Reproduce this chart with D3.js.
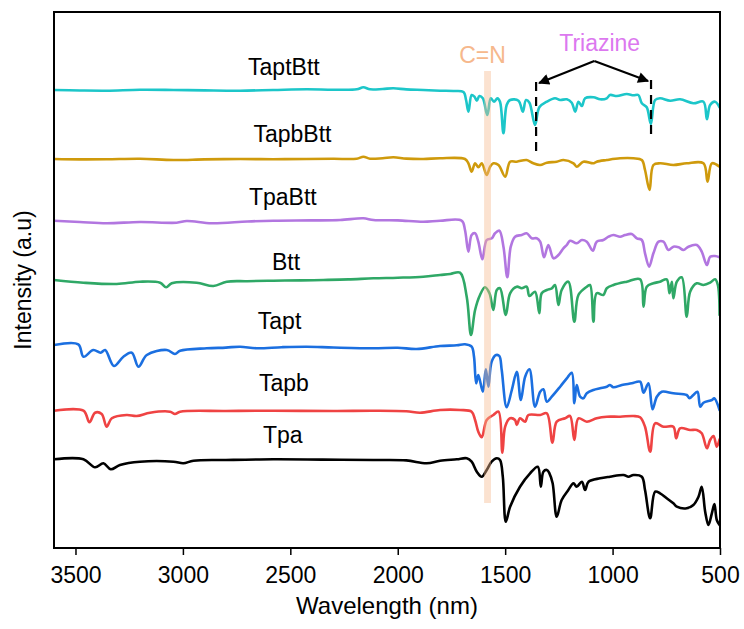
<!DOCTYPE html>
<html><head><meta charset="utf-8">
<script src="https://cdn.jsdelivr.net/npm/d3@7"></script>
<style>
body{margin:0;background:#fff;}
text{font-family:"Liberation Sans",Arial,sans-serif;}
</style></head>
<body><svg id="c" width="744" height="629"></svg>
<script>
// x: wavenumber (axis titled "Wavelength (nm)"), y: intensity in a.u. (stacked spectra)
const xTicks = [3500, 3000, 2500, 2000, 1500, 1000, 500];
const seriesNames  = ["TaptBtt", "TapbBtt", "TpaBtt", "Btt", "Tapt", "Tapb", "Tpa"];
const seriesColors = ["#1cc6c9", "#cf9a0c", "#b276e0", "#2fa866", "#1b6fe0", "#ef4343", "#000000"];
// label anchor [wavenumber, intensity]
const labelPos = [[2530, 473], [2490, 406], [2535, 343], [2520, 278], [2550, 219], [2530, 157], [2535, 105]];

const taptBtt = [[3600,458],[3480,457.5],[3355,457.3],[3200,458.2],[3044,458],[2900,457.6],[2734,457.3],[2580,458],[2424,458.7],[2300,458.3],[2191,458.7],[2160,460.7],[2129,458.7],[2070,459],[2020,459.7],[1960,458.6],[1881,458],[1803,457.3],[1741,457],[1694,456],[1682,448],[1671,436.3],[1656,453],[1643,451.3],[1632,447.3],[1620,452],[1604,449.7],[1583,433],[1567,449.7],[1552,446.3],[1536,449.7],[1524,446.3],[1508,414.7],[1493,443],[1477,448],[1438,447.3],[1418,436.3],[1403,448],[1387,445.3],[1361,423],[1341,440.7],[1306,446.3],[1268,449.7],[1244,448],[1213,448.7],[1190,445.3],[1174,436.3],[1159,446.3],[1143,442],[1128,449.7],[1089,450.7],[1058,448.7],[1027,449.7],[1012,453],[980,452],[934,454],[903,452.7],[880,453],[864,444.7],[841,440.7],[822,424],[802,448],[779,449.7],[732,447.3],[686,448.7],[624,444.7],[577,446.3],[561,428.7],[546,443],[523,446.3],[502,440.7]];

const tapbBtt = [[3600,389],[3480,388.6],[3355,388.7],[3200,389.2],[3044,388],[2900,388.6],[2734,389],[2580,388.8],[2424,389],[2300,389.2],[2191,389.3],[2160,391.3],[2129,389.3],[2070,389.8],[2020,390.7],[1960,389.4],[1881,389],[1803,389.7],[1687,389],[1671,384.7],[1656,376.3],[1640,384.7],[1625,380.7],[1609,384.7],[1586,373],[1570,381.3],[1555,384.7],[1531,383],[1500,371.3],[1477,386.3],[1446,386.3],[1400,388],[1369,384.7],[1337,383],[1306,385.3],[1260,386.3],[1229,388],[1182,384.7],[1167,381.3],[1136,386.3],[1089,384.7],[1074,386.3],[1027,388],[965,389.7],[903,389.7],[864,388],[849,378],[828,358],[810,383],[779,384.7],[717,383],[655,384.7],[577,384.7],[558,366.3],[538,384.7],[502,381.3]];

const tpaBtt = [[3600,327.3],[3480,326],[3355,324.7],[3200,326],[3029,325.3],[2982,327],[2866,324.7],[2700,326.5],[2579,327.3],[2400,327.6],[2268,328],[2160,329.7],[2113,328],[2000,327.6],[1881,326.3],[1803,327.3],[1702,327.3],[1687,318],[1671,296.3],[1656,313],[1640,314.7],[1625,306.3],[1606,288.7],[1586,308],[1562,309.7],[1547,314.7],[1527,317.3],[1508,301.3],[1490,270.7],[1474,301.3],[1454,311.3],[1423,313],[1400,314.7],[1376,309.7],[1353,309.7],[1337,306.3],[1319,290.7],[1299,303],[1275,289.7],[1252,293],[1229,299.7],[1213,303],[1198,307.3],[1167,304.7],[1143,308],[1120,306.3],[1092,297.3],[1074,306.3],[1043,308],[1019,311.3],[996,313],[965,311.3],[942,313],[911,314],[887,309.7],[864,308],[849,294.7],[830,281.3],[810,294.7],[786,306.3],[763,306.3],[740,298],[717,301.3],[693,300.7],[670,298],[647,301.3],[608,303],[585,296.3],[561,283],[546,291.3],[523,292],[502,290.7]];

const btt = [[3600,268],[3463,265.3],[3308,264],[3200,266.3],[3106,265.3],[3078,260.7],[3052,264.7],[2936,265.3],[2858,262],[2796,266.3],[2700,266.8],[2579,267.3],[2450,267.6],[2346,268],[2230,268.6],[2113,269.7],[2000,270.3],[1881,271.3],[1803,273],[1756,274],[1710,275.3],[1679,251.3],[1659,213],[1640,238],[1617,253],[1594,260.7],[1573,254.7],[1555,238],[1539,258],[1524,259.7],[1497,233],[1477,254.7],[1446,261.3],[1423,259.7],[1400,261.3],[1387,252],[1361,256.3],[1341,234.7],[1330,254.7],[1306,258],[1283,259.7],[1268,263],[1252,243],[1237,258],[1206,266.3],[1178,226.3],[1159,253],[1120,261.3],[1105,263],[1089,226.3],[1074,254.7],[1043,253],[1027,259.7],[996,263],[934,266.3],[872,268.7],[856,241.3],[841,261.3],[810,264.7],[779,266.3],[748,268.7],[735,254.7],[724,266.3],[717,249.7],[701,266.3],[678,270.7],[655,231.3],[639,256.3],[608,264.7],[577,263],[546,265.3],[523,268.7],[510,263],[502,233]];

const tapt = [[3600,203],[3487,203.7],[3463,191.3],[3417,198],[3383,195.3],[3362,198],[3321,182],[3277,191.3],[3238,195.3],[3207,181.3],[3168,193],[3075,198],[3037,194],[3013,197.3],[2889,199.7],[2800,200.4],[2734,201.3],[2656,199.7],[2540,200.8],[2424,201.3],[2300,200.5],[2113,199.7],[2000,200.2],[1912,199],[1803,202],[1725,202.7],[1687,203.7],[1656,201.3],[1645,191.3],[1635,164.7],[1625,173],[1604,156.3],[1590,178.7],[1578,161.3],[1563,186.3],[1542,193],[1527,192],[1516,178],[1493,140.7],[1469,158],[1446,176.3],[1427,148],[1407,171.3],[1387,178.7],[1361,141.3],[1337,156.3],[1322,158.7],[1306,146.3],[1283,151.3],[1244,161.3],[1213,169.7],[1190,175.3],[1178,144.7],[1167,163],[1151,151.3],[1136,149.7],[1120,154.7],[1089,158],[1058,159.7],[1027,161.3],[1012,163],[996,160.7],[957,163],[911,164.7],[872,166.3],[856,155.3],[833,164.7],[814,138.7],[794,151.3],[771,156.3],[717,154.7],[655,153],[642,149.7],[624,153],[605,156.3],[592,141.3],[577,145.3],[538,148],[527,149.7],[502,138]];

const tapb = [[3600,137.3],[3463,137.3],[3435,125.7],[3409,135.3],[3378,134],[3355,121.3],[3331,129.7],[3262,133],[3215,132],[3153,135.3],[3060,136.3],[3037,134],[3013,136.3],[2800,137],[2579,137.3],[2300,137],[2113,137.3],[1960,136.8],[1896,135.3],[1803,138],[1710,138],[1656,136.3],[1640,128],[1625,116.3],[1609,110.7],[1586,128],[1555,133],[1531,136.3],[1513,95.3],[1500,121.3],[1477,129.7],[1454,128],[1446,123],[1431,129.7],[1407,126.3],[1392,133],[1337,133],[1306,134.7],[1280,105.3],[1260,126.3],[1221,129.7],[1198,132],[1178,108],[1159,129.7],[1120,126.3],[1074,129.7],[1027,131.3],[965,131.3],[903,132],[872,130.7],[849,121.3],[825,96.3],[802,124.7],[763,121.3],[717,121.3],[704,109.7],[686,119.7],[639,118],[608,118],[585,114.7],[561,99.7],[546,108],[530,112],[515,101.3],[502,108.7]];

const tpa = [[3600,88.7],[3463,88.7],[3409,80.7],[3370,84.7],[3336,78.7],[3293,83],[3200,86.3],[3044,86.3],[2998,84.7],[2951,87.3],[2800,88],[2579,88.7],[2350,88.4],[2113,88],[1960,87.6],[1865,84.7],[1803,87.3],[1725,88.7],[1679,89.7],[1656,86.3],[1632,76.3],[1609,71.3],[1586,78],[1563,86.3],[1539,89.7],[1524,88],[1511,71.3],[1497,26.3],[1477,41.3],[1431,61.3],[1384,74.7],[1348,81.3],[1334,61.3],[1322,76.3],[1306,78],[1294,74.7],[1279,64.7],[1260,31.3],[1237,48],[1206,58],[1182,64.7],[1167,61.3],[1143,66.3],[1128,58],[1112,66.3],[1058,69.7],[1012,71.3],[949,73],[926,71.3],[903,73],[864,71.3],[849,58],[825,29.7],[802,56.3],[779,54.7],[748,49.7],[717,44.7],[701,41.3],[655,39.7],[624,43],[600,51.3],[585,61.3],[569,36.3],[554,23],[538,34.7],[526,44],[515,28],[502,23]];

const seriesData = [taptBtt, tapbBtt, tpaBtt, btt, tapt, tapb, tpa];
// C=N band and triazine marks (wavenumbers)
const cnBand = [1598, 1566];
const triazineMarks = [1356, 821];

const svg = d3.select("#c");
const m = {l: 54, r: 720, t: 12, b: 548};
const x = d3.scaleLinear().domain([3600, 500]).range([m.l, m.r]);
const y = d3.scaleLinear().domain([0, 536]).range([m.b, m.t]);
const font = '"Liberation Sans", Arial, sans-serif';

svg.append("defs").append("clipPath").attr("id", "clip")
  .append("rect").attr("x", m.l).attr("y", m.t).attr("width", m.r - m.l).attr("height", m.b - m.t);

const line = d3.line().x(d => x(d[0])).y(d => y(d[1])).curve(d3.curveCatmullRom.alpha(0.5));
const g = svg.append("g").attr("clip-path", "url(#clip)");
seriesData.forEach((s, i) => {
  g.append("path").datum(s).attr("d", line)
    .attr("fill", "none").attr("stroke", seriesColors[i])
    .attr("stroke-width", 2.6).attr("stroke-linejoin", "round").attr("stroke-linecap", "round");
});

// C=N band (on top of lines)
svg.append("rect")
  .attr("x", x(cnBand[0])).attr("width", x(cnBand[1]) - x(cnBand[0]))
  .attr("y", y(477)).attr("height", y(45) - y(477))
  .attr("fill", "#f5b98e").attr("opacity", 0.42);
svg.append("text").attr("x", x(1582) - 5).attr("y", y(485))
  .attr("text-anchor", "middle").attr("font-size", 23).attr("fill", "#f6b88c").text("C=N");

// Series labels
seriesNames.forEach((n, i) => {
  svg.append("text").attr("x", x(labelPos[i][0])).attr("y", y(labelPos[i][1]))
    .attr("text-anchor", "middle").attr("font-size", 23).attr("fill", "#000").text(n);
});

// Triazine annotation
const defs = svg.select("defs");
defs.append("marker").attr("id", "ah").attr("viewBox", "0 0 10 10").attr("refX", 9).attr("refY", 5)
  .attr("markerWidth", 5.5).attr("markerHeight", 5).attr("orient", "auto").attr("markerUnits", "strokeWidth")
  .append("path").attr("d", "M0,0 L10,5 L0,10 Z").attr("fill", "#000");
svg.append("text").attr("x", x(1060)).attr("y", y(497))
  .attr("text-anchor", "middle").attr("font-size", 23).attr("fill", "#dc78ef").text("Triazine");
const apex = [x(1085), y(487)];
const tips = [[x(triazineMarks[0]) + 3, y(465)], [x(triazineMarks[1]) - 3, y(467)]];
tips.forEach(t => {
  svg.append("line").attr("x1", apex[0]).attr("y1", apex[1]).attr("x2", t[0]).attr("y2", t[1])
    .attr("stroke", "#000").attr("stroke-width", 2.2).attr("marker-end", "url(#ah)");
});
svg.append("line").attr("x1", x(triazineMarks[0])).attr("x2", x(triazineMarks[0]))
  .attr("y1", y(466)).attr("y2", y(391)).attr("stroke", "#000").attr("stroke-width", 2.2).attr("stroke-dasharray", "9,6");
svg.append("line").attr("x1", x(triazineMarks[1])).attr("x2", x(triazineMarks[1]))
  .attr("y1", y(468)).attr("y2", y(411)).attr("stroke", "#000").attr("stroke-width", 2.2).attr("stroke-dasharray", "9,6");

// Axes and frame
const xa = svg.append("g").attr("transform", `translate(0,${m.b})`)
  .call(d3.axisBottom(x).tickValues(xTicks).tickSize(7).tickPadding(12).tickFormat(d3.format("d")));
xa.select(".domain").remove();
xa.selectAll(".tick line").attr("stroke", "#000").attr("stroke-width", 1.5);
xa.selectAll(".tick text").attr("font-size", 23).attr("font-family", font).attr("fill", "#000");

svg.append("rect").attr("x", m.l).attr("y", m.t).attr("width", m.r - m.l).attr("height", m.b - m.t)
  .attr("fill", "none").attr("stroke", "#000").attr("stroke-width", 2);

svg.append("text").attr("x", (m.l + m.r) / 2).attr("y", 614)
  .attr("text-anchor", "middle").attr("font-size", 24).text("Wavelength (nm)");
svg.append("text").attr("transform", `translate(31,${(m.t + m.b) / 2}) rotate(-90)`)
  .attr("text-anchor", "middle").attr("font-size", 23).text("Intensity (a.u)");
</script></body></html>
